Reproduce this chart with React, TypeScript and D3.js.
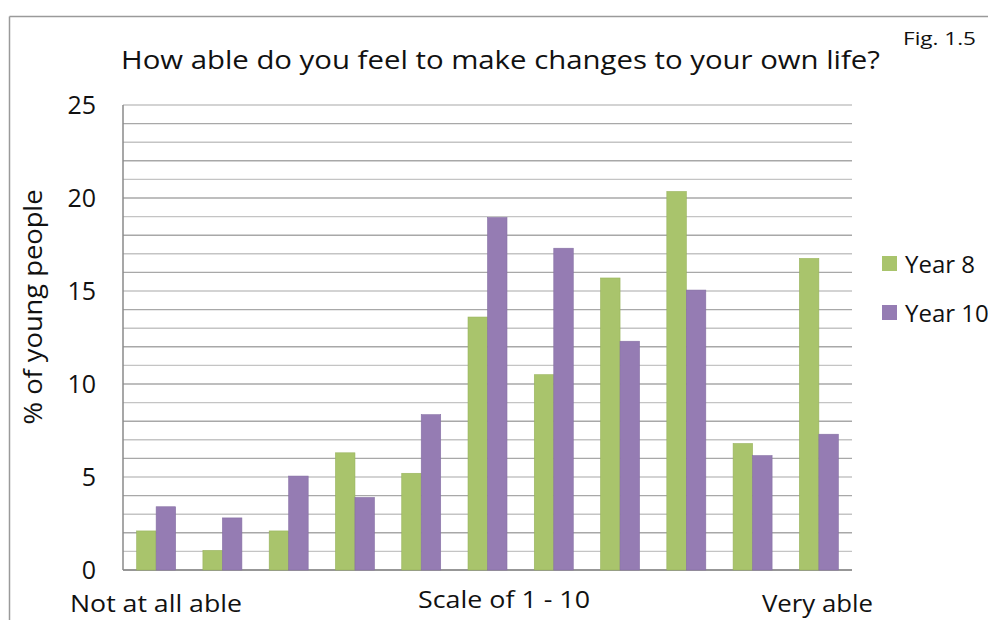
import React from "react";
import * as d3 from "d3";

const categories = ["1", "2", "3", "4", "5", "6", "7", "8", "9", "10", "11"];
const seriesNames = ["Year 8", "Year 10"];
const year8 = [2.1, 1.05, 2.1, 6.3, 5.2, 13.6, 10.5, 15.7, 20.35, 6.8, 16.75];
const year10 = [3.4, 2.8, 5.05, 3.9, 8.35, 18.95, 17.3, 12.3, 15.05, 6.15, 7.3];
const yTicks = [0, 5, 10, 15, 20, 25];
const gridValues = d3.range(0, 26, 1);
const colors = ["#a9c46c", "#957cb3"];

const W = 988;
const H = 620;
const FONT = "'Open Sans', Lato, sans-serif";

export default function App() {
  const left = 123;
  const right = 852;
  const top = 105;
  const bottom = 570;

  const x = d3.scaleBand().domain(categories).range([left, right]).paddingInner(0).paddingOuter(0);
  const y = d3.scaleLinear().domain([0, 25]).range([bottom, top]);
  const bw = x.bandwidth();
  const barW = bw / 3.4;
  const xs = d3.scaleBand().domain(seriesNames).range([0, barW * 2]);
  const groupOffset = (bw - barW * 2) / 2;
  const data = [year8, year10];

  return (
    <svg
      width={W}
      height={H}
      style={{ position: "absolute", left: 0, top: 0, background: "#fff" }}
      fontFamily={FONT}
    >
      <rect x={0} y={0} width={W} height={H} fill="#fff" />
      {/* outer frame */}
      <line x1={9.5} x2={W} y1={16.5} y2={16.5} stroke="#9a9a9a" strokeWidth={1.5} />
      <line x1={9.5} x2={9.5} y1={16.5} y2={H} stroke="#9a9a9a" strokeWidth={1.5} />

      <text x={903} y={45} fontSize={19} fill="#111" textLength={73} lengthAdjust="spacingAndGlyphs">Fig. 1.5</text>
      <text x={121} y={69} fontSize={25} fill="#111" textLength={759} lengthAdjust="spacingAndGlyphs">
        How able do you feel to make changes to your own life?
      </text>

      {/* gridlines */}
      {gridValues.map((v) => (
        <line
          key={v}
          x1={left}
          x2={right}
          y1={y(v)}
          y2={y(v)}
          stroke={v % 2 === 0 ? "#a8a8a8" : "#c4c4c4"}
          strokeWidth={1.4}
        />
      ))}
      <line x1={left} x2={left} y1={top} y2={bottom} stroke="#8a8a8a" strokeWidth={1.5} />
      <line x1={left} x2={right} y1={bottom} y2={bottom} stroke="#8a8a8a" strokeWidth={1.5} />

      {/* bars */}
      {categories.map((c, i) => (
        <g key={c}>
          {seriesNames.map((s, j) => {
            const v = data[j][i];
            const bx = (x(c) as number) + groupOffset + (xs(s) as number);
            return (
              <rect
                key={s}
                x={bx}
                y={y(v)}
                width={xs.bandwidth()}
                height={y(0) - y(v)}
                fill={colors[j]}
                stroke={j === 0 ? "#98b35c" : "#8670a4"}
                strokeWidth={0.6}
              />
            );
          })}
        </g>
      ))}

      {/* y tick labels */}
      {yTicks.map((t) => (
        <text key={t} x={96} y={y(t) + 9} textAnchor="end" fontSize={25} fill="#111">
          {t}
        </text>
      ))}

      <text
        transform={`translate(42, 307) rotate(-90)`}
        textAnchor="middle"
        fontSize={25}
        fill="#111"
        textLength={235}
        lengthAdjust="spacingAndGlyphs"
      >
        % of young people
      </text>

      <text x={70} y={612} fontSize={23} fill="#111" textLength={172} lengthAdjust="spacingAndGlyphs">Not at all able</text>
      <text x={418} y={608} fontSize={24} fill="#111" textLength={172} lengthAdjust="spacingAndGlyphs">Scale of 1 - 10</text>
      <text x={762} y={612} fontSize={23} fill="#111" textLength={111} lengthAdjust="spacingAndGlyphs">Very able</text>

      {/* legend */}
      {seriesNames.map((s, j) => (
        <g key={s} transform={`translate(882, ${256 + j * 49})`}>
          <rect x={0} y={0} width={15} height={15} fill={colors[j]} />
          <text x={23} y={17} fontSize={24} fill="#111">{s}</text>
        </g>
      ))}
    </svg>
  );
}
